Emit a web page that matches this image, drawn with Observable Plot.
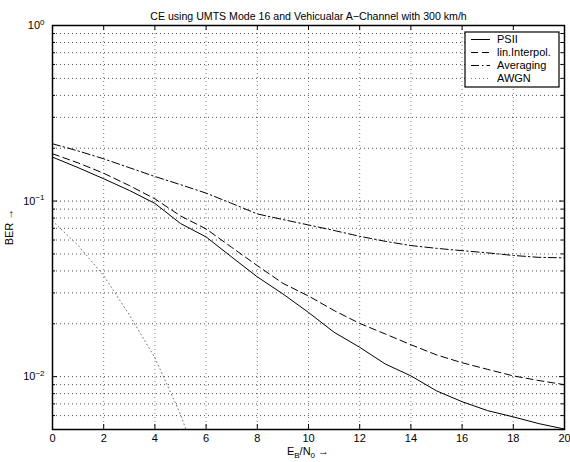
<!DOCTYPE html>
<html><head><meta charset="utf-8">
<script src="https://cdn.jsdelivr.net/npm/d3@7"></script>
<script src="https://cdn.jsdelivr.net/npm/@observablehq/plot@0.6"></script>
<style>body{margin:0;background:#fff;} svg{display:block;}</style>
</head><body><div id="chart"></div>
<script>
// ---- data ----
const ebn0 = [0,1,2,3,4,5,6,7,8,9,10,11,12,13,14,15,16,17,18,19,20];
const psii = [0.178,0.155,0.134,0.115,0.097,0.0745,0.0625,0.048,0.037,0.0296,0.0232,0.0179,0.0147,0.0118,0.0101,0.0083,0.0072,0.0064,0.0059,0.0054,0.00503];
const linInterpol = [0.186,0.165,0.144,0.1226,0.103,0.0823,0.0694,0.0545,0.0429,0.034,0.0288,0.0238,0.0201,0.0175,0.0152,0.0133,0.012,0.011,0.0101,0.0095,0.009];
const averaging = [0.212,0.193,0.174,0.155,0.138,0.124,0.111,0.097,0.0845,0.0785,0.0731,0.068,0.063,0.059,0.0558,0.0538,0.0522,0.0507,0.049,0.0478,0.0475];
const awgnEbn0 = [0,1,2,3,4,5,6];
const awgn = [0.077,0.056,0.0376,0.0225,0.0128,0.0061,0.0024];
const seriesNames = ["PSII","lin.Interpol.","Averaging","AWGN"];
const xTicks = [0,2,4,6,8,10,12,14,16,18,20];
const yMajor = [0.01,0.1,1];
const yMinor = [0.005,0.006,0.007,0.008,0.009,0.02,0.03,0.04,0.05,0.06,0.07,0.08,0.09,0.2,0.3,0.4,0.5,0.6,0.7,0.8,0.9];
const yExp = ["\u22122","\u22121","0"];
const titleText = "CE using UMTS Mode 16 and Vehicualar A\u2212Channel with 300 km/h";

// ---- layout / styles ----
const W = 570, H = 462, mT = 25, mR = 6, mB = 33, mL = 52;
const PW = W - mL - mR, PH = H - mT - mB;
const font = "'Liberation Sans', Arial, Helvetica, sans-serif";
const styles = [
  {stroke:"#000", dash:null, width:1},
  {stroke:"#000", dash:"7,4", width:1},
  {stroke:"#000", dash:"8,3,1.5,3", width:1},
  {stroke:"#777", dash:"1,3", width:1}
];

const rows = ebn0.map((e,i)=>({e, psii:psii[i], lin:linInterpol[i], avg:averaging[i]}));
const awgnRows = awgnEbn0.map((e,i)=>({e, v:awgn[i]}));

const plot = Plot.plot({
  width: W, height: H, marginTop: mT, marginRight: mR, marginBottom: mB, marginLeft: mL,
  style: {fontFamily: font, fontSize: "11px", color: "#000", background: "#fff"},
  x: {domain: [0, 20]},
  y: {type: "log", domain: [0.005, 1]},
  marks: [
    Plot.gridX(xTicks, {stroke: "#000", strokeOpacity: 0.5, strokeDasharray: "1,3"}),
    Plot.gridY(yMinor.concat(yMajor), {stroke: "#000", strokeOpacity: 0.7, strokeDasharray: "1,3"}),
    Plot.line(awgnRows, {x: "e", y: "v", stroke: styles[3].stroke, strokeDasharray: styles[3].dash, strokeWidth: styles[3].width, clip: true}),
    Plot.line(rows, {x: "e", y: "avg", stroke: styles[2].stroke, strokeDasharray: styles[2].dash, strokeWidth: styles[2].width, clip: true}),
    Plot.line(rows, {x: "e", y: "lin", stroke: styles[1].stroke, strokeDasharray: styles[1].dash, strokeWidth: styles[1].width, clip: true}),
    Plot.line(rows, {x: "e", y: "psii", stroke: styles[0].stroke, strokeWidth: styles[0].width, clip: true}),
    // inward ticks
    Plot.tickX(xTicks, {x: d => d, insetTop: PH - 5, stroke: "#000"}),
    Plot.tickX(xTicks, {x: d => d, insetBottom: PH - 5, stroke: "#000"}),
    Plot.tickY(yMajor, {y: d => d, insetRight: PW - 5, stroke: "#000"}),
    Plot.tickY(yMajor, {y: d => d, insetLeft: PW - 5, stroke: "#000"}),
    Plot.tickY(yMinor, {y: d => d, insetRight: PW - 3, stroke: "#000"}),
    Plot.tickY(yMinor, {y: d => d, insetLeft: PW - 3, stroke: "#000"}),
    Plot.frame({stroke: "#000", strokeWidth: 1.5}),
    Plot.axisX(xTicks, {tickSize: 0, tickPadding: 5, label: null, tickFormat: d => String(d)}),
    Plot.axisY(yMajor, {tickSize: 0, tickPadding: 8, label: null, tickFormat: (d, i) => yExp[yMajor.indexOf(d)]}),
    Plot.text([titleText], {text: d => d, frameAnchor: "top", dy: -13, fontSize: 10.6})
  ]
});
document.getElementById("chart").append(plot);

const svg = d3.select(plot);
// superscript exponents for y tick labels
svg.selectAll('g[aria-label="y-axis tick label"] text').each(function() {
  const t = d3.select(this);
  const ex = t.text();
  t.text("10");
  t.append("tspan").attr("dy", "-0.55em").attr("font-size", "8px").text(ex);
});

// x label
const xl = svg.append("text").attr("x", mL + PW / 2).attr("y", 455)
  .attr("text-anchor", "middle").attr("font-family", font).attr("font-size", "11px").attr("fill", "#000");
xl.append("tspan").text("E");
xl.append("tspan").attr("dy", 3).attr("font-size", "8px").text("B");
xl.append("tspan").attr("dy", -3).text("/N");
xl.append("tspan").attr("dy", 3).attr("font-size", "8px").text("0");
xl.append("tspan").attr("dy", -3).text(" \u2192");

// y label
svg.append("text").attr("transform", "translate(13," + (mT + PH / 2) + ") rotate(-90)")
  .attr("text-anchor", "middle").attr("font-family", font).attr("font-size", "11px").attr("fill", "#000")
  .text("BER \u2192");

// legend
const lg = svg.append("g");
lg.append("rect").attr("x", 465).attr("y", 32).attr("width", 94).attr("height", 55)
  .attr("fill", "#fff").attr("stroke", "#000").attr("stroke-width", 1.2);
seriesNames.forEach((name, i) => {
  const y = 39.5 + i * 13;
  lg.append("line").attr("x1", 471).attr("x2", 490).attr("y1", y).attr("y2", y)
    .attr("stroke", styles[i].stroke).attr("stroke-width", styles[i].width)
    .attr("stroke-dasharray", styles[i].dash);
  lg.append("text").attr("x", 497).attr("y", y).attr("dy", "0.35em").attr("text-anchor", "start")
    .attr("font-family", font).attr("font-size", "11px").attr("fill", "#000").text(name);
});
</script>
</body></html>
